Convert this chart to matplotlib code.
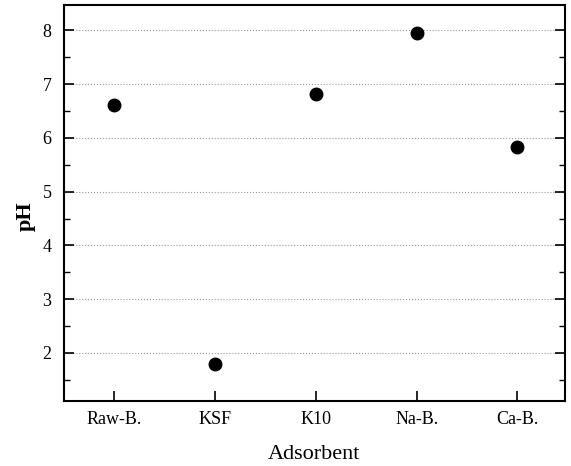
import numpy as np
import matplotlib
matplotlib.use('Agg')
import matplotlib.pyplot as plt
from matplotlib.ticker import MultipleLocator

adsorbents = ['Raw-B.', 'KSF', 'K10', 'Na-B.', 'Ca-B.']
ph = [6.62, 1.80, 6.81, 7.96, 5.84]

plt.rcParams['font.family'] = ['Liberation Serif', 'DejaVu Serif']

fig = plt.figure(figsize=(5.71, 4.66), dpi=100)
ax = fig.add_axes([0.112, 0.139, 0.877, 0.851])

x = np.arange(len(adsorbents))
ax.plot(x, ph, 'o', color='black', markersize=9)

ax.set_xlim(-0.5, 4.47)
ax.set_ylim(1.1, 8.48)
ax.set_xticks(x)
ax.set_xticklabels(adsorbents, fontsize=13)
ax.yaxis.set_major_locator(MultipleLocator(1))
ax.yaxis.set_minor_locator(MultipleLocator(0.5))
ax.tick_params(axis='y', which='major', direction='in', length=7, width=1.2,
               right=True, labelsize=13, pad=9)
ax.tick_params(axis='y', which='minor', direction='in', length=4, width=1,
               right=True)
ax.tick_params(axis='x', direction='in', length=7, width=1.2, top=False, pad=7)

ax.grid(axis='y', which='major', linestyle=':', color='#999999', linewidth=0.8)

for s in ax.spines.values():
    s.set_linewidth(1.5)

ax.set_xlabel('Adsorbent', fontsize=16, labelpad=12)
ax.set_ylabel('pH', fontsize=16, fontweight='bold')
ax.yaxis.set_label_coords(-0.056, 0.467)

fig.savefig('out.png', dpi=100)
